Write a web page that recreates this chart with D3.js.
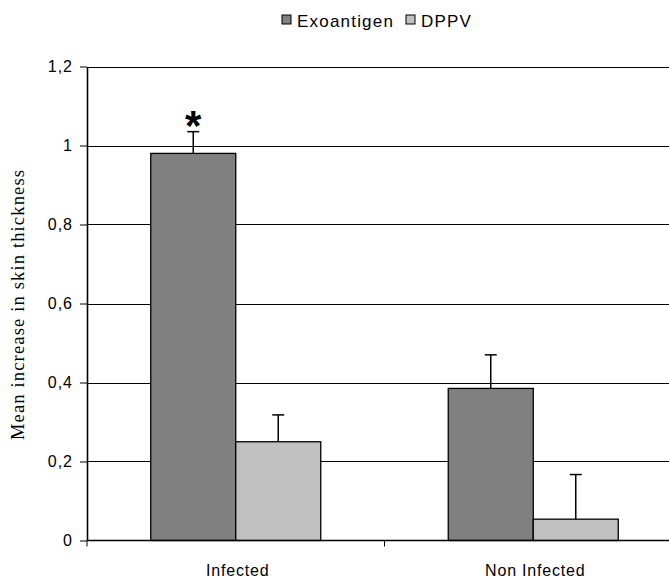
<!DOCTYPE html>
<html>
<head>
<meta charset="utf-8">
<script src="https://cdn.jsdelivr.net/npm/d3@7/dist/d3.min.js"></script>
<style>
  html, body { margin: 0; padding: 0; background: #fff; }
  svg { display: block; }
  .sans { font-family: "Liberation Sans", Arial, sans-serif; }
</style>
</head>
<body>
<svg id="chart" width="669" height="578"></svg>
<script>
// Skin-thickness response by group and antigen
const categories = ["Infected", "Non Infected"];
const series = ["Exoantigen", "DPPV"];
const exoantigen = [0.98, 0.385];
const exoantigenErr = [0.055, 0.085];
const dppv = [0.25, 0.054];
const dppvErr = [0.068, 0.113];
const yTicks = [0, 0.2, 0.4, 0.6, 0.8, 1, 1.2];
const yTickLabels = ["0", "0,2", "0,4", "0,6", "0,8", "1", "1,2"];
const colors = ["#808080", "#c0c0c0"];

const rows = categories.map((c, i) => ({
  category: c,
  values: [
    { key: series[0], value: exoantigen[i], err: exoantigenErr[i] },
    { key: series[1], value: dppv[i], err: dppvErr[i] }
  ]
}));

const svg = d3.select("#chart");
const plotLeft = 87, plotRight = 682, plotTop = 66.5, plotBottom = 540.5;

const y = d3.scaleLinear().domain([0, 1.2]).range([plotBottom, plotTop]);
const x0 = d3.scaleBand().domain(categories).range([plotLeft, plotRight]).paddingInner(0).paddingOuter(0);
const x1 = d3.scaleBand().domain(series).range([0, x0.bandwidth()]).paddingInner(0).paddingOuter(0.75);
const color = d3.scaleOrdinal().domain(series).range(colors);

// horizontal gridlines
svg.append("g")
  .selectAll("line")
  .data(yTicks.filter(t => t > 0))
  .join("line")
  .attr("x1", plotLeft).attr("x2", plotRight)
  .attr("y1", d => Math.round(y(d)) + 0.5)
  .attr("y2", d => Math.round(y(d)) + 0.5)
  .attr("stroke", "#000").attr("stroke-width", 1);

// y axis
const yAxis = d3.axisLeft(y)
  .tickValues(yTicks)
  .tickFormat((d, i) => yTickLabels[i])
  .tickSizeInner(7).tickSizeOuter(0).tickPadding(7);
const gy = svg.append("g").attr("transform", `translate(${plotLeft},0)`).call(yAxis);
gy.select(".domain").attr("stroke", "#000").attr("stroke-width", 1.6);
gy.selectAll(".tick line").attr("stroke", "#000").attr("stroke-width", 1);
gy.selectAll(".tick text")
  .attr("class", "sans")
  .attr("font-size", 16)
  .attr("letter-spacing", "1px")
  .attr("fill", "#000");

// bars
const groups = svg.append("g")
  .selectAll("g")
  .data(rows)
  .join("g")
  .attr("transform", d => `translate(${x0(d.category)},0)`);

groups.selectAll("rect")
  .data(d => d.values)
  .join("rect")
  .attr("x", d => x1(d.key))
  .attr("y", d => y(d.value))
  .attr("width", x1.bandwidth())
  .attr("height", d => y(0) - y(d.value))
  .attr("fill", d => color(d.key))
  .attr("stroke", "#000")
  .attr("stroke-width", 1.3);

// error bars (upper only)
const capHalf = 6;
const err = groups.selectAll("g.err")
  .data(d => d.values)
  .join("g")
  .attr("class", "err")
  .attr("stroke", "#000")
  .attr("stroke-width", 1.5);
err.append("line")
  .attr("x1", d => x1(d.key) + x1.bandwidth() / 2)
  .attr("x2", d => x1(d.key) + x1.bandwidth() / 2)
  .attr("y1", d => y(d.value))
  .attr("y2", d => y(d.value + d.err));
err.append("line")
  .attr("x1", d => x1(d.key) + x1.bandwidth() / 2 - capHalf)
  .attr("x2", d => x1(d.key) + x1.bandwidth() / 2 + capHalf)
  .attr("y1", d => y(d.value + d.err))
  .attr("y2", d => y(d.value + d.err));

// significance mark above the Infected / Exoantigen bar
svg.append("text")
  .attr("class", "sans")
  .attr("x", x0("Infected") + x1("Exoantigen") + x1.bandwidth() / 2)
  .attr("y", y(exoantigen[0] + exoantigenErr[0]) + 8)
  .attr("text-anchor", "middle")
  .attr("font-size", 42)
  .attr("font-weight", "bold")
  .text("*");

// x axis
svg.append("line")
  .attr("x1", plotLeft).attr("x2", plotRight)
  .attr("y1", plotBottom).attr("y2", plotBottom)
  .attr("stroke", "#000").attr("stroke-width", 1.6);
svg.append("g")
  .selectAll("line")
  .data(categories.map(c => x0(c)).concat([plotRight]))
  .join("line")
  .attr("x1", d => d).attr("x2", d => d)
  .attr("y1", plotBottom).attr("y2", plotBottom + 6)
  .attr("stroke", "#000").attr("stroke-width", 1);

svg.append("g")
  .selectAll("text")
  .data(categories)
  .join("text")
  .attr("class", "sans")
  .attr("x", d => x0(d) + x0.bandwidth() / 2 + 2)
  .attr("y", 575.5)
  .attr("text-anchor", "middle")
  .attr("font-size", 16)
  .attr("letter-spacing", "0.8px")
  .text(d => d);

// y axis title
svg.append("text")
  .attr("transform", "translate(24,305) rotate(-90)")
  .attr("text-anchor", "middle")
  .attr("font-family", "'Liberation Serif', 'Times New Roman', serif")
  .attr("font-size", 18.5)
  .attr("textLength", 270)
  .attr("lengthAdjust", "spacing")
  .text("Mean increase in skin thickness");

// legend
const legendPos = [282, 406];
const legend = svg.append("g")
  .selectAll("g")
  .data(series)
  .join("g")
  .attr("transform", (d, i) => `translate(${legendPos[i]},15)`);
legend.append("rect")
  .attr("width", 9).attr("height", 9)
  .attr("fill", d => color(d))
  .attr("stroke", "#000").attr("stroke-width", 1);
legend.append("text")
  .attr("class", "sans")
  .attr("x", 15)
  .attr("y", 11.5)
  .attr("font-size", 17)
  .attr("letter-spacing", "1.2px")
  .text(d => d);
</script>
</body>
</html>
